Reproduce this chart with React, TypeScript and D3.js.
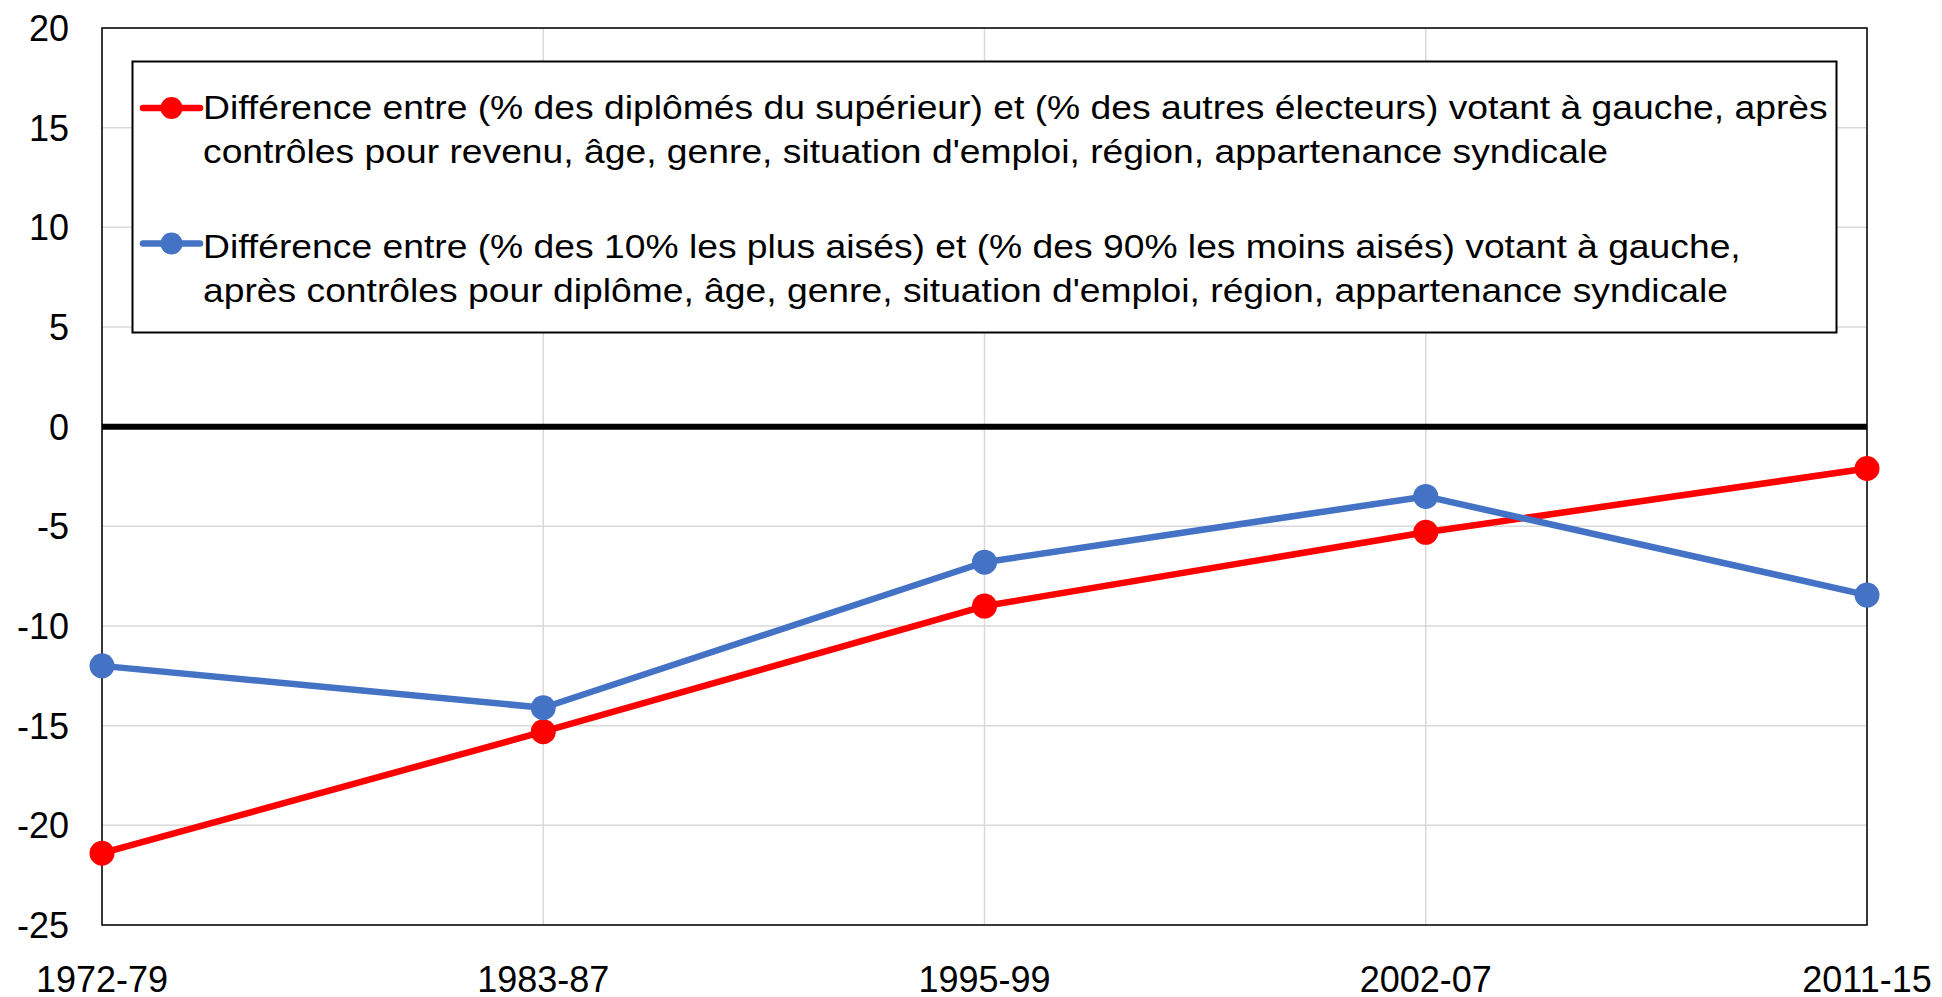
import React from "react";
import * as d3 from "d3";

const categories = ["1972-79", "1983-87", "1995-99", "2002-07", "2011-15"];
const diplomesValues = [-21.4, -15.3, -9.0, -5.3, -2.1];
const aisesValues = [-12.0, -14.1, -6.8, -3.5, -8.45];
const yTicks = [-25, -20, -15, -10, -5, 0, 5, 10, 15, 20];
const legendRed = [
  "Différence entre (% des diplômés du supérieur) et (% des autres électeurs) votant à gauche, après",
  "contrôles pour revenu, âge, genre, situation d'emploi, région, appartenance syndicale",
];
const legendBlue = [
  "Différence entre (% des 10% les plus aisés) et (% des 90% les moins aisés) votant à gauche,",
  "après contrôles pour diplôme, âge, genre, situation d'emploi, région, appartenance syndicale",
];

const W = 1942;
const H = 997;
const left = 102;
const right = 1867;
const top = 28;
const bottom = 925;
const RED = "#FF0000";
const BLUE = "#4472C4";
const FONT = "'Liberation Sans', Arial, sans-serif";

export default function App() {
  const x = d3.scalePoint<string>().domain(categories).range([left, right]).padding(0);
  const y = d3.scaleLinear().domain([-25, 20]).range([bottom, top]);
  const line = d3
    .line<number>()
    .x((_, i) => x(categories[i]) as number)
    .y((d) => y(d));

  const series = [
    { values: diplomesValues, color: RED, legend: legendRed, markerY: 108, baseY: 119.5 },
    { values: aisesValues, color: BLUE, legend: legendBlue, markerY: 243.5, baseY: 258 },
  ];

  const legendX = 132.5;
  const legendY = 61.5;
  const legendW = 1836.5 - 132.5;
  const legendH = 332.5 - 61.5;
  const textX = 203;
  const sx = 1.096;

  return (
    <svg
      width={W}
      height={H}
      viewBox={`0 0 ${W} ${H}`}
      style={{ position: "absolute", left: 0, top: 0, background: "#fff" }}
      fontFamily={FONT}
    >
      <rect x={0} y={0} width={W} height={H} fill="#fff" />
      {yTicks.map((t) => (
        <line key={"h" + t} x1={left} x2={right} y1={y(t)} y2={y(t)} stroke="#D9D9D9" strokeWidth={1.5} />
      ))}
      {categories.map((c) => (
        <line key={"v" + c} x1={x(c)} x2={x(c)} y1={top} y2={bottom} stroke="#D9D9D9" strokeWidth={1.5} />
      ))}
      <rect x={left} y={top} width={right - left} height={bottom - top} fill="none" stroke="#000" strokeWidth={1.5} />
      <line x1={left} x2={right} y1={y(0)} y2={y(0)} stroke="#000" strokeWidth={6} />
      {yTicks.map((t) => (
        <text key={"yl" + t} x={69} y={y(t)} dy="0.36em" textAnchor="end" fontSize={36} fill="#000">
          {t}
        </text>
      ))}
      {categories.map((c) => (
        <text key={"xl" + c} x={x(c)} y={992} textAnchor="middle" fontSize={36} fill="#000">
          {c}
        </text>
      ))}
      {series.map((s, si) => (
        <g key={"s" + si}>
          <path d={line(s.values) || ""} fill="none" stroke={s.color} strokeWidth={6.5} strokeLinejoin="round" />
          {s.values.map((v, i) => (
            <circle key={i} cx={x(categories[i])} cy={y(v)} r={12.5} fill={s.color} />
          ))}
        </g>
      ))}
      <rect x={legendX} y={legendY} width={legendW} height={legendH} fill="#fff" stroke="#000" strokeWidth={2} />
      {series.map((s, si) => (
        <g key={"lg" + si}>
          <line x1={143} x2={200} y1={s.markerY} y2={s.markerY} stroke={s.color} strokeWidth={6.5} strokeLinecap="round" />
          <circle cx={171.5} cy={s.markerY} r={11} fill={s.color} />
          <g transform={`translate(${textX},0) scale(${sx},1)`}>
            {s.legend.map((t, li) => (
              <text key={li} x={0} y={s.baseY + li * 44} fontSize={34} fill="#000">
                {t}
              </text>
            ))}
          </g>
        </g>
      ))}
    </svg>
  );
}
